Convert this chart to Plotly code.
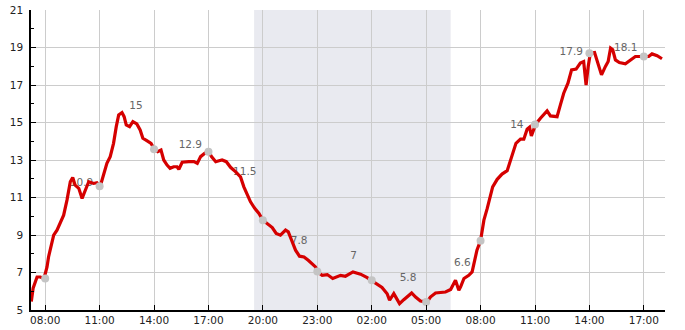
import plotly.graph_objects as go

D1 = "2024-05-01 "
D2 = "2024-05-02 "

# Temperature line (time, value)
line_times = [
    D1+"07:14", D1+"07:20", D1+"07:33", D1+"07:44", D1+"07:56", D1+"08:06", D1+"08:11", D1+"08:19",
    D1+"08:28", D1+"08:39", D1+"08:50", D1+"09:01", D1+"09:12", D1+"09:23", D1+"09:31", D1+"09:39",
    D1+"09:51", D1+"10:02", D1+"10:13", D1+"10:24", D1+"10:40", D1+"10:51", D1+"11:02", D1+"11:13",
    D1+"11:24", D1+"11:35", D1+"11:46", D1+"11:55", D1+"12:03", D1+"12:14", D1+"12:21", D1+"12:28",
    D1+"12:39", D1+"12:50", D1+"13:03", D1+"13:14", D1+"13:23", D1+"13:36", D1+"13:50", D1+"14:01",
    D1+"14:12", D1+"14:23", D1+"14:32", D1+"14:43", D1+"14:53", D1+"15:05", D1+"15:16", D1+"15:22",
    D1+"15:33", D1+"15:55", D1+"16:12", D1+"16:23", D1+"16:34", D1+"16:48", D1+"17:01", D1+"17:10",
    D1+"17:24", D1+"17:35", D1+"17:45", D1+"17:59", D1+"18:13", D1+"18:30", D1+"18:46", D1+"18:57",
    D1+"19:08", D1+"19:19", D1+"19:33", D1+"19:47", D1+"20:00", D1+"20:14", D1+"20:31", D1+"20:44",
    D1+"20:58", D1+"21:15", D1+"21:24", D1+"21:35", D1+"21:48", D1+"22:01", D1+"22:16", D1+"22:30",
    D1+"22:43", D1+"22:54", D1+"23:03", D1+"23:16", D1+"23:33", D1+"23:51", D2+"00:17", D2+"00:33",
    D2+"00:58", D2+"01:23", D2+"01:45", D2+"01:59", D2+"02:18", D2+"02:34", D2+"02:51", D2+"02:59",
    D2+"03:13", D2+"03:19", D2+"03:32", D2+"03:46", D2+"03:57", D2+"04:12", D2+"04:25", D2+"04:41",
    D2+"05:03", D2+"05:14", D2+"05:31", D2+"06:04", D2+"06:21", D2+"06:31", D2+"06:37", D2+"06:48",
    D2+"06:54", D2+"07:05", D2+"07:21", D2+"07:32", D2+"07:41", D2+"07:48", D2+"08:00", D2+"08:11",
    D2+"08:22", D2+"08:33", D2+"08:40", D2+"08:55", D2+"09:11", D2+"09:28", D2+"09:36", D2+"09:44",
    D2+"09:57", D2+"10:12", D2+"10:23", D2+"10:34", D2+"10:42", D2+"10:48", D2+"10:54", D2+"11:02",
    D2+"11:18", D2+"11:40", D2+"11:51", D2+"12:13", D2+"12:24", D2+"12:35", D2+"12:49", D2+"13:01",
    D2+"13:16", D2+"13:30", D2+"13:41", D2+"13:49", D2+"13:56", D2+"14:03", D2+"14:17", D2+"14:31",
    D2+"14:40", D2+"14:53", D2+"15:02", D2+"15:10", D2+"15:17", D2+"15:26", D2+"15:39", D2+"15:59",
    D2+"16:19", D2+"16:32", D2+"17:00", D2+"17:16", D2+"17:27", D2+"17:44", D2+"18:00",
]
line_values = [
    5.45, 6.16, 6.76, 6.76, 6.68, 7.30, 7.83, 8.46,
    8.99, 9.26, 9.62, 10.06, 10.86, 11.84, 12.07, 11.66,
    11.49, 10.95, 11.40, 11.84, 11.75, 11.79, 11.60, 12.20,
    12.82, 13.18, 13.89, 14.78, 15.40, 15.53, 15.31, 14.87,
    14.78, 15.05, 14.92, 14.60, 14.16, 14.03, 13.89, 13.57,
    13.44, 13.53, 13.00, 12.73, 12.56, 12.64, 12.64, 12.50,
    12.88, 12.91, 12.91, 12.82, 13.18, 13.36, 13.44, 13.18,
    12.91, 12.96, 13.00, 12.91, 12.61, 12.37, 12.10, 11.57,
    11.13, 10.77, 10.42, 10.15, 9.79, 9.62, 9.40, 9.08,
    8.99, 9.26, 9.17, 8.72, 8.19, 7.87, 7.83, 7.65,
    7.48, 7.30, 7.00, 6.85, 6.89, 6.68, 6.85, 6.80,
    7.03, 6.91, 6.73, 6.59, 6.41, 6.20, 5.87, 5.52,
    5.87, 5.69, 5.34, 5.55, 5.69, 5.91, 5.69, 5.48,
    5.43, 5.69, 5.91, 5.96, 6.09, 6.41, 6.59, 6.05,
    6.23, 6.68, 6.85, 7.03, 7.65, 8.19, 8.70, 9.79,
    10.42, 11.04, 11.57, 11.97, 12.25, 12.43, 12.82, 13.27,
    13.89, 14.11, 14.11, 14.64, 14.75, 14.28, 14.60, 14.90,
    15.23, 15.62, 15.35, 15.31, 15.94, 16.56, 17.10, 17.81,
    17.85, 18.17, 18.25, 17.00, 17.99, 18.70, 18.73, 17.99,
    17.54, 17.99, 18.25, 18.97, 18.88, 18.34, 18.20, 18.13,
    18.34, 18.52, 18.52, 18.52, 18.66, 18.56, 18.40,
]

# Grey sample points every 3 hours
point_times = [D1+"08:00", D1+"11:00", D1+"14:00", D1+"17:00", D1+"20:00", D1+"23:00",
               D2+"02:00", D2+"05:00", D2+"08:00", D2+"11:00", D2+"14:00", D2+"17:00"]
point_values = [6.68, 11.6, 13.57, 13.44, 9.79, 7.05, 6.59, 5.43, 8.7, 14.9, 18.7, 18.52]

# Value labels
label_times = [D1+"10:00", D1+"13:00", D1+"16:00", D1+"19:00", D1+"22:00", D2+"01:00",
               D2+"04:00", D2+"07:00", D2+"10:00", D2+"13:00", D2+"16:00"]
label_values = [10.9, 15, 12.9, 11.5, 7.8, 7, 5.8, 6.6, 14, 17.9, 18.1]
label_texts = ["10.9", "15", "12.9", "11.5", "7.8", "7", "5.8", "6.6", "14", "17.9", "18.1"]

# Night period
night_start = D1+"19:31"
night_end = D2+"06:21"

x_range = [D1+"07:13", D2+"18:10"]
tick_vals = [D1+"08:00", D1+"11:00", D1+"14:00", D1+"17:00", D1+"20:00", D1+"23:00",
             D2+"02:00", D2+"05:00", D2+"08:00", D2+"11:00", D2+"14:00", D2+"17:00"]
tick_text = ["08:00", "11:00", "14:00", "17:00", "20:00", "23:00",
             "02:00", "05:00", "08:00", "11:00", "14:00", "17:00"]

fig = go.Figure()

fig.add_trace(go.Scatter(
    x=label_times, y=label_values, text=label_texts, mode="markers+text",
    textposition="top center",
    marker=dict(size=16, opacity=0),
    textfont=dict(family="DejaVu Sans", size=10.5, color="#666666"),
    hoverinfo="skip", showlegend=False,
))
fig.add_trace(go.Scatter(
    x=line_times, y=line_values, mode="lines",
    line=dict(color="#d50000", width=3.2),
    showlegend=False,
))
fig.add_trace(go.Scatter(
    x=point_times, y=point_values, mode="markers",
    marker=dict(color="#c4c4c4", size=8),
    showlegend=False,
))

fig.add_shape(type="rect", xref="x", yref="paper", x0=night_start, x1=night_end, y0=0, y1=1,
              fillcolor="#e9eaf0", line=dict(width=0), layer="below")

fig.update_layout(
    width=685, height=330,
    margin=dict(l=31, r=20, t=10, b=20, autoexpand=False),
    paper_bgcolor="white", plot_bgcolor="white",
    font=dict(family="DejaVu Sans", size=10.5, color="#222222"),
    showlegend=False,
)
fig.update_xaxes(
    range=x_range, tickvals=tick_vals, ticktext=tick_text,
    showgrid=True, gridcolor="#cccccc", gridwidth=1,
    showline=True, linecolor="black", linewidth=1.5,
    ticks="inside", ticklen=5, tickcolor="black",
    zeroline=False, automargin=False, ticklabelstandoff=0,
)
fig.update_yaxes(
    range=[5, 21], tick0=5, dtick=2,
    showgrid=True, gridcolor="#cccccc", gridwidth=1,
    showline=True, linecolor="black", linewidth=1.5,
    ticks="inside", ticklen=5, tickcolor="black",
    minor=dict(dtick=1, tick0=5, ticks="inside", ticklen=3, tickcolor="black", showgrid=False),
    zeroline=False, ticklabelstandoff=4, automargin=False,
)

fig.write_html("out.html")
